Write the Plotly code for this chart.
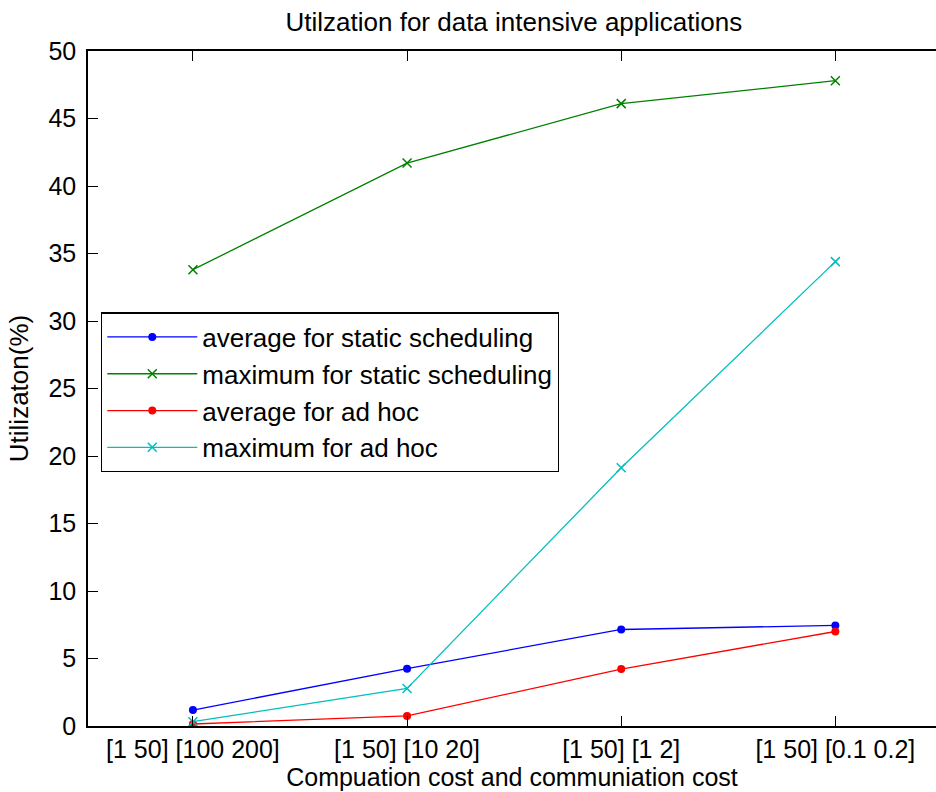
import plotly.graph_objects as go

# Cost settings: [computation range] [communication range]
categories = ["[1 50] [100 200]", "[1 50] [10 20]", "[1 50] [1 2]", "[1 50] [0.1 0.2]"]
positions = [1, 2, 3, 4]

avg_static = [1.18, 4.25, 7.15, 7.45]
max_static = [33.8, 41.7, 46.1, 47.8]
avg_adhoc = [0.15, 0.75, 4.22, 7.0]
max_adhoc = [0.32, 2.78, 19.13, 34.4]

series = [
    ("average for static scheduling", avg_static, "#0000FF", "circle"),
    ("maximum for static scheduling", max_static, "#008000", "x-thin"),
    ("average for ad hoc", avg_adhoc, "#FF0000", "circle"),
    ("maximum for ad hoc", max_adhoc, "#00BFBF", "x-thin"),
]

FONT = "Liberation Sans, Arial, sans-serif"

fig = go.Figure()
for i, (name, vals, color, sym) in enumerate(series):
    is_dot = sym == "circle"
    fig.add_trace(go.Scatter(
        x=positions, y=vals, name=name, mode="lines+markers",
        legendgroup=f"g{i}",
        line=dict(color=color, width=1.3),
        marker=dict(symbol=sym, size=8 if is_dot else 9, color=color,
                    line=dict(color=color, width=0 if is_dot else 1.5)),
    ))

fig.update_layout(
    width=936, height=792,
    margin=dict(l=88, r=0, t=51, b=66),
    paper_bgcolor="white", plot_bgcolor="white",
    font=dict(family=FONT, color="black"),
    title=dict(text="Utilzation for data intensive applications",
               x=0.549, xanchor="center", y=0.972, yanchor="middle",
               font=dict(size=26, family=FONT, color="black")),
    showlegend=True,
    legend=dict(x=0.0153, y=0.613, xanchor="left", yanchor="top",
                bordercolor="black", borderwidth=1.3, bgcolor="white",
                font=dict(size=26, family=FONT, color="black"),
                tracegroupgap=0, itemwidth=90),
    xaxis=dict(
        range=[0.51, 4.47], tickvals=positions, ticktext=categories,
        showgrid=False, zeroline=False,
        showline=True, linecolor="black", linewidth=1.5, mirror="ticks",
        ticks="inside", ticklen=10, tickcolor="black", tickwidth=1,
        tickfont=dict(size=25, family=FONT, color="black"),
        ticklabelstandoff=0,
        title=dict(text="Compuation cost and communiation cost",
                   font=dict(size=25, family=FONT, color="black"), standoff=0),
    ),
    yaxis=dict(
        range=[0, 50], tickvals=list(range(0, 51, 5)),
        showgrid=False, zeroline=False,
        showline=True, linecolor="black", linewidth=1.5, mirror=False,
        ticks="inside", ticklen=10, tickcolor="black", tickwidth=1,
        tickfont=dict(size=25, family=FONT, color="black"),
        ticklabelstandoff=5,
        title=dict(text="Utilizaton(%)",
                   font=dict(size=26, family=FONT, color="black"), standoff=12),
    ),
)

fig.write_html("out.html")
